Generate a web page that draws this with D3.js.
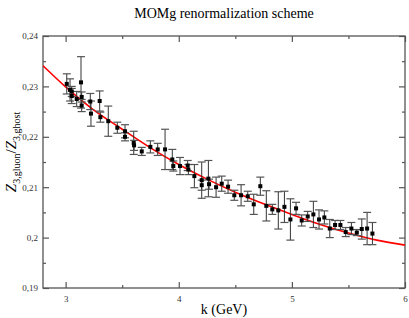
<!DOCTYPE html>
<html>
<head>
<meta charset="utf-8">
<script src="https://cdn.jsdelivr.net/npm/d3@7"></script>
<style>
  body { margin: 0; background: #fff; }
  svg { display: block; font-family: "Liberation Serif", "DejaVu Serif", serif; }
</style>
</head>
<body>
<svg id="chart" width="409" height="318"></svg>
<script>
'use strict'

// measured points: momentum k (GeV), ratio Z3gluon/Z3ghost, error
const kVals = [3.010, 3.039, 3.054, 3.054, 3.098, 3.136, 3.142, 3.142, 3.218, 3.224,
  3.301, 3.307, 3.377, 3.457, 3.525, 3.525, 3.602, 3.605, 3.673, 3.749,
  3.814, 3.879, 3.943, 3.952, 4.011, 4.079, 4.085, 4.138, 4.203, 4.203,
  4.262, 4.268, 4.330, 4.380, 4.436, 4.491, 4.551, 4.610, 4.663, 4.721,
  4.774, 4.827, 4.880, 4.934, 4.987, 5.037, 5.087, 5.140, 5.190, 5.240,
  5.287, 5.335, 5.382, 5.429, 5.476, 5.526, 5.574, 5.618, 5.665, 5.712]
const ratio = [0.2305, 0.2293, 0.2290, 0.2281, 0.2275, 0.2308, 0.2279, 0.2262, 0.2270, 0.2246,
  0.2271, 0.2239, 0.2231, 0.2218, 0.2211, 0.2200, 0.2188, 0.2183, 0.2171, 0.2180,
  0.2175, 0.2175, 0.2155, 0.2142, 0.2142, 0.2143, 0.2135, 0.2122, 0.2114, 0.2104,
  0.2117, 0.2106, 0.2100, 0.2107, 0.2101, 0.2084, 0.2084, 0.2082, 0.2066, 0.2102,
  0.2063, 0.2056, 0.2054, 0.2061, 0.2036, 0.2058, 0.2034, 0.2042, 0.2046, 0.2036,
  0.2040, 0.2018, 0.2025, 0.2025, 0.2011, 0.2018, 0.2010, 0.2017, 0.2018, 0.2008]
const errs = [0.0020, 0.0022, 0.0010, 0.0015, 0.0015, 0.0051, 0.0010, 0.0012, 0.0016, 0.0025,
  0.0020, 0.0010, 0.0030, 0.0011, 0.0013, 0.0008, 0.0023, 0.0010, 0.0008, 0.0012,
  0.0012, 0.0040, 0.0020, 0.0010, 0.0017, 0.0010, 0.0010, 0.0023, 0.0036, 0.0010,
  0.0036, 0.0010, 0.0020, 0.0015, 0.0013, 0.0010, 0.0021, 0.0010, 0.0020, 0.0018,
  0.0030, 0.0010, 0.0037, 0.0031, 0.0041, 0.0012, 0.0011, 0.0010, 0.0026, 0.0019,
  0.0013, 0.0018, 0.0009, 0.0009, 0.0009, 0.0012, 0.0006, 0.0020, 0.0032, 0.0022]

// fitted curve
const fitK   = [2.8, 3.0, 3.25, 3.5, 3.75, 4.0, 4.25, 4.5, 4.75, 5.0, 5.25, 5.5, 5.75, 6.0]
const fitVal = [0.2341, 0.2299, 0.2253, 0.2215, 0.2178, 0.2145, 0.2116, 0.2090, 0.2067, 0.2046, 0.2026, 0.2009, 0.1995, 0.1985]

const xTicks = [3, 4, 5, 6]
const xMinor = [3.5, 4.5, 5.5]
const yTicks = [0.19, 0.2, 0.21, 0.22, 0.23, 0.24]
const yMinor = [0.195, 0.205, 0.215, 0.225, 0.235]

const title = 'MOMg renormalization scheme'
const xLabel = 'k (GeV)'

const margin = {top: 36, right: 4, bottom: 30, left: 43}
const W = 409, H = 318
const width = W - margin.left - margin.right,
      height = H - margin.top - margin.bottom

const svg = d3.select('#chart')

const x = d3.scaleLinear().domain([2.8, 6]).range([0, width])
const y = d3.scaleLinear().domain([0.19, 0.24]).range([height, 0])

const chart = svg.append('g')
  .attr('transform', `translate(${margin.left},${margin.top})`)

const comma = v => d3.format('')(+v.toFixed(3)).replace('.', ',')
const axisCol = '#555'

function styleAxis(g) {
  g.select('.domain').remove()
  g.selectAll('line').attr('stroke', axisCol).attr('stroke-width', 1.2)
  g.selectAll('text').attr('fill', '#333').style('font-size', '9px')
    .style('font-family', '"Liberation Serif", serif')
}

// bottom / left with labels, top / right without
chart.append('g').attr('transform', `translate(0,${height})`)
  .call(d3.axisTop(x).tickValues(xTicks).tickSize(6).tickFormat(''))
  .call(styleAxis)
chart.append('g').attr('transform', `translate(0,${height})`)
  .call(d3.axisTop(x).tickValues(xMinor).tickSize(3).tickFormat(''))
  .call(styleAxis)
chart.append('g').attr('transform', `translate(0,${height})`)
  .call(d3.axisBottom(x).tickValues(xTicks).tickSize(0).tickPadding(8).tickFormat(d3.format('d')))
  .call(styleAxis)
chart.append('g')
  .call(d3.axisBottom(x).tickValues(xTicks).tickSize(6).tickFormat(''))
  .call(styleAxis)
chart.append('g')
  .call(d3.axisBottom(x).tickValues(xMinor).tickSize(3).tickFormat(''))
  .call(styleAxis)

chart.append('g')
  .call(d3.axisRight(y).tickValues(yTicks).tickSize(6).tickFormat(''))
  .call(styleAxis)
chart.append('g')
  .call(d3.axisRight(y).tickValues(yMinor).tickSize(3).tickFormat(''))
  .call(styleAxis)
chart.append('g')
  .call(d3.axisLeft(y).tickValues(yTicks).tickSize(0).tickPadding(5).tickFormat(comma))
  .call(styleAxis)
chart.append('g').attr('transform', `translate(${width},0)`)
  .call(d3.axisLeft(y).tickValues(yTicks).tickSize(6).tickFormat(''))
  .call(styleAxis)
chart.append('g').attr('transform', `translate(${width},0)`)
  .call(d3.axisLeft(y).tickValues(yMinor).tickSize(3).tickFormat(''))
  .call(styleAxis)

// frame
chart.append('rect')
  .attr('width', width).attr('height', height)
  .attr('fill', 'none').attr('stroke', axisCol).attr('stroke-width', 1.3)

// fit line
const fit = fitK.map((k, i) => ({k: k, v: fitVal[i]}))
const plot = chart.append('g')
plot.append('path')
  .datum(fit)
  .attr('fill', 'none')
  .attr('stroke', '#ff0000')
  .attr('stroke-width', 1.6)
  .attr('d', d3.line().x(d => x(d.k)).y(d => y(d.v)).curve(d3.curveMonotoneX))

// data with error bars
const pts = kVals.map((k, i) => ({k: k, v: ratio[i], e: errs[i]}))
const bars = plot.selectAll('.bar').data(pts).join('g').attr('class', 'bar')
bars.append('line')
  .attr('x1', d => x(d.k)).attr('x2', d => x(d.k))
  .attr('y1', d => y(d.v + d.e)).attr('y2', d => y(d.v - d.e))
  .attr('stroke', '#333').attr('stroke-width', 1)
bars.selectAll('.cap')
  .data(d => [d.v + d.e, d.v - d.e].map(v => ({k: d.k, v: v})))
  .join('line').attr('class', 'cap')
  .attr('x1', d => x(d.k) - 4).attr('x2', d => x(d.k) + 4)
  .attr('y1', d => y(d.v)).attr('y2', d => y(d.v))
  .attr('stroke', '#555').attr('stroke-width', 1.2)

plot.selectAll('.pt').data(pts).join('rect')
  .attr('class', 'pt')
  .attr('x', d => x(d.k) - 2).attr('y', d => y(d.v) - 2)
  .attr('width', 4).attr('height', 4)
  .attr('fill', '#000')

// texts
svg.append('text')
  .attr('x', margin.left + width / 2).attr('y', 18)
  .attr('text-anchor', 'middle')
  .style('font-size', '14px')
  .text(title)

svg.append('text')
  .attr('x', margin.left + width / 2).attr('y', 314)
  .attr('text-anchor', 'middle')
  .style('font-size', '14px')
  .text(xLabel)

const yl = svg.append('text')
  .attr('transform', `translate(16,${margin.top + height / 2 - 10}) rotate(-90)`)
  .attr('text-anchor', 'middle')
  .style('font-size', '15px')
yl.append('tspan').style('font-style', 'italic').text('Z')
yl.append('tspan').attr('dy', 4).style('font-size', '10px').text('3,gluon')
yl.append('tspan').attr('dy', -4).text('/')
yl.append('tspan').style('font-style', 'italic').text('Z')
yl.append('tspan').attr('dy', 4).style('font-size', '10px').text('3,ghost')
</script>
</body>
</html>
